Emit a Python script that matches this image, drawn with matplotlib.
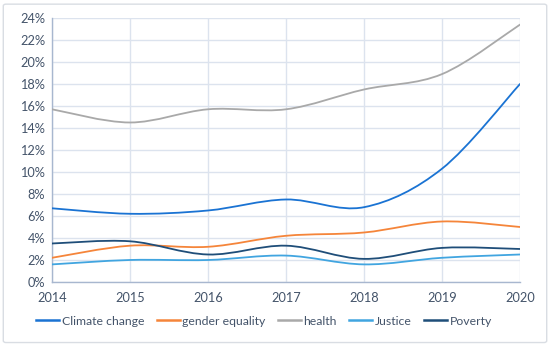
import numpy as np
import matplotlib
matplotlib.use("Agg")
import matplotlib.pyplot as plt
from matplotlib.path import Path
from matplotlib.patches import PathPatch, FancyBboxPatch
from matplotlib.lines import Line2D
from matplotlib.ticker import FuncFormatter

years = [2014, 2015, 2016, 2017, 2018, 2019, 2020]
climate_change = [6.7, 6.2, 6.5, 7.5, 6.8, 10.3, 18.0]
gender_equality = [2.2, 3.3, 3.2, 4.2, 4.5, 5.5, 5.0]
health = [15.7, 14.5, 15.7, 15.7, 17.5, 18.9, 23.4]
justice = [1.6, 2.0, 2.0, 2.4, 1.6, 2.2, 2.5]
poverty = [3.5, 3.7, 2.5, 3.3, 2.1, 3.1, 3.0]

series_names = ["Climate change", "gender equality", "health", "Justice", "Poverty"]
series_values = [climate_change, gender_equality, health, justice, poverty]
colors = ["#1a73d3", "#f5853a", "#a9a9a9", "#41a5e0", "#1f4e79"]

plt.rcParams['font.family'] = ['Lato', 'DejaVu Sans']

fig = plt.figure(figsize=(5.5, 3.46), dpi=100)
fig.patch.set_facecolor("white")
border = FancyBboxPatch((0.006, 0.01), 0.988, 0.978, boxstyle="round,pad=0,rounding_size=0.005",
                        transform=fig.transFigure, facecolor="none", edgecolor="#d9dde3", lw=1.0)
fig.patches.append(border)

ax = fig.add_axes([0.0945, 0.185, 0.851, 0.763])
ax.set_facecolor("none")


def smooth_path(xs, ys):
    xs = np.asarray(xs, float)
    ys = np.asarray(ys, float)
    n = len(xs)
    verts = [(xs[0], ys[0])]
    codes = [Path.MOVETO]
    for i in range(n - 1):
        p0 = i - 1 if i > 0 else i
        p3 = i + 2 if i + 2 < n else i + 1
        c1 = (xs[i] + (xs[i + 1] - xs[p0]) / 6, ys[i] + (ys[i + 1] - ys[p0]) / 6)
        c2 = (xs[i + 1] - (xs[p3] - xs[i]) / 6, ys[i + 1] - (ys[p3] - ys[i]) / 6)
        verts += [c1, c2, (xs[i + 1], ys[i + 1])]
        codes += [Path.CURVE4] * 3
    return Path(verts, codes)


handles = []
for name, vals, c in zip(series_names, series_values, colors):
    patch = PathPatch(smooth_path(years, vals), facecolor="none", edgecolor=c, lw=1.3,
                      capstyle="round", zorder=3)
    ax.add_patch(patch)
    handles.append(Line2D([], [], color=c, lw=1.8, label=name))

ax.set_xlim(2014, 2020)
ax.set_ylim(0, 24)
ax.set_xticks(years)
ax.set_yticks(np.arange(0, 25, 2))
ax.yaxis.set_major_formatter(FuncFormatter(lambda v, p: f"{int(v)}%"))
ax.grid(True, color="#dce3ee", lw=1.0, zorder=0)
ax.set_axisbelow(True)
for s in ["top", "right"]:
    ax.spines[s].set_visible(False)
for s in ["left", "bottom"]:
    ax.spines[s].set_color("#a8b7cf")
    ax.spines[s].set_linewidth(1.0)
ax.tick_params(length=0, labelsize=9.2, labelcolor="#44546a", pad=5)
ax.tick_params(axis="x", pad=7)

fig.legend(handles=handles, loc="center", bbox_to_anchor=(0.48, 0.072), ncol=5, frameon=False,
           fontsize=8.8, labelcolor="#44546a", handlelength=1.9, handletextpad=0.2,
           columnspacing=1.0)

fig.savefig("out.png", dpi=100, facecolor="white")
